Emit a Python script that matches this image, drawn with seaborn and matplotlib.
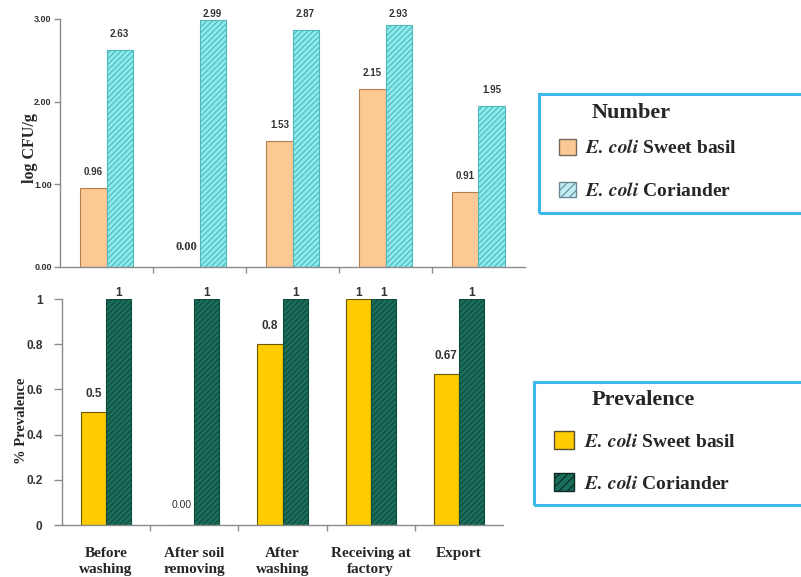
import numpy as np
import pandas as pd
import matplotlib
matplotlib.use("Agg")
import matplotlib.pyplot as plt
from matplotlib.patches import Rectangle, Patch
import seaborn as sns

# ---- data -------------------------------------------------------------
stages = ["Before\nwashing", "After soil\nremoving", "After\nwashing",
          "Receiving at\nfactory", "Export"]
series = ["Sweet basil", "Coriander"]

count_basil = [0.96, 0.00, 1.53, 2.15, 0.91]
count_coriander = [2.63, 2.99, 2.87, 2.93, 1.95]
count_labels_basil = ["0.96", "0.00", "1.53", "2.15", "0.91"]
count_labels_coriander = ["2.63", "2.99", "2.87", "2.93", "1.95"]

prev_basil = [0.5, 0.0, 0.8, 1.0, 0.67]
prev_coriander = [1.0, 1.0, 1.0, 1.0, 1.0]
prev_labels_basil = ["0.5", "0.00", "0.8", "1", "0.67"]
prev_labels_coriander = ["1", "1", "1", "1", "1"]

count_ticks = [0.0, 1.0, 2.0, 3.0]
prev_ticks = [0, 0.2, 0.4, 0.6, 0.8, 1]


def long_table(a, b):
    return pd.DataFrame({
        "stage": stages * 2,
        "series": [series[0]] * len(stages) + [series[1]] * len(stages),
        "value": list(a) + list(b),
    })


sns.set_theme(style="white")
plt.rcParams["hatch.linewidth"] = 0.8
plt.rcParams["mathtext.fontset"] = "stix"

fig = plt.figure(figsize=(8.01, 5.77), dpi=100)
W, H = 801, 577


def px_axes(l, t, r, b):
    return fig.add_axes([l / W, 1 - b / H, (r - l) / W, (b - t) / H])


ax_top = px_axes(60, 19, 525, 267)
ax_bot = px_axes(62, 299, 503, 525)

serif = "Liberation Serif"
sans = "Liberation Sans"

# colours
c_peach, e_peach = "#FCC894", "#B08050"
c_cyan, h_cyan = "#8EEBEC", "#4FB8BC"
c_yellow, e_yellow = "#FFCC00", "#8A7000"
c_green, h_green = "#1B6E5B", "#0F4A3C"


def draw_panel(ax, a, b, colors, hatch_colors, edge, width):
    sns.barplot(data=long_table(a, b), x="stage", y="value", hue="series",
                hue_order=series, palette=colors, saturation=1, width=width,
                ax=ax, legend=False, linewidth=0.8)
    for cont, hc, ec, hatch in zip(ax.containers, hatch_colors, edge, ["", "//////"]):
        for bar in cont:
            bar.set_edgecolor(ec if not hatch else hc)
            if hatch:
                bar.set_hatch(hatch)
    ax.set_xlim(-0.5, len(stages) - 0.5)
    ax.set_xlabel("")
    for s in ["top", "right"]:
        ax.spines[s].set_visible(False)
    for s in ["left", "bottom"]:
        ax.spines[s].set_color("#8C8C8C")
        ax.spines[s].set_linewidth(1.0)
    ax.set_xticks(np.arange(len(stages)))
    ax.set_xticks(np.arange(len(stages) - 1) + 0.5, minor=True)
    ax.tick_params(axis="x", which="major", length=0)
    ax.tick_params(axis="x", which="minor", length=4, width=1.0,
                   color="#8C8C8C", direction="out", bottom=True)


# ---- upper panel: counts ---------------------------------------------
draw_panel(ax_top, count_basil, count_coriander, [c_peach, c_cyan],
           [e_peach, h_cyan], [e_peach, "#3A9A9E"], 0.56)
ax_top.set_ylim(0, 3)
ax_top.set_yticks(count_ticks)
ax_top.set_yticklabels([f"{t:.2f}" for t in count_ticks],
                       fontfamily=sans, fontweight="bold", fontsize=6.5,
                       color="#333333")
ax_top.tick_params(axis="y", length=4, width=1.0, color="#8C8C8C",
                   direction="out", left=True, pad=2)
ax_top.set_xticklabels([])
ax_top.set_ylabel("log CFU/g", fontfamily=serif, fontweight="bold",
                  fontsize=11.5)
ax_top.yaxis.set_label_coords(-0.048, 0.48)

# ---- lower panel: prevalence -----------------------------------------
draw_panel(ax_bot, prev_basil, prev_coriander, [c_yellow, c_green],
           [e_yellow, h_green], ["#6B5800", "#0B3A2F"], 0.57)
ax_bot.set_ylim(0, 1)
ax_bot.set_yticks(prev_ticks)
ax_bot.set_yticklabels([f"{t:g}" for t in prev_ticks], fontfamily=sans,
                       fontweight="bold", fontsize=8.5, color="#333333")
ax_bot.tick_params(axis="y", length=6, width=1.0, color="#8C8C8C",
                   direction="out", left=True, pad=8)
ax_bot.set_xticklabels(stages, fontfamily=serif, fontweight="bold",
                       fontsize=11, linespacing=1.3)
ax_bot.tick_params(axis="x", which="major", pad=16)
ax_bot.set_ylabel("% Prevalence", fontfamily=serif, fontweight="bold",
                  fontsize=10.5)
ax_bot.yaxis.set_label_coords(-0.078, 0.46)


def value_labels(ax, values_pair, labels_pair, gap_px, cap_px, style):
    zero_family, zero_weight, zero_size, size = style
    y0, y1 = ax.get_ylim()
    h_px = ax.get_position().height * H
    unit = (y1 - y0) / h_px
    for cont, vals, labs in zip(ax.containers, values_pair, labels_pair):
        for bar, v, lab in zip(cont, vals, labs):
            x = bar.get_x() + bar.get_width() / 2
            if v == 0:
                ax.text(x, v + 20 * unit, lab, ha="center",
                        va="center", fontfamily=zero_family,
                        fontweight=zero_weight, fontsize=zero_size,
                        color="#333333", clip_on=False)
            else:
                y = min(v + gap_px * unit, y1 + cap_px * unit)
                ax.text(x, y, lab, ha="center", va="center",
                        fontfamily=sans, fontweight="bold", fontsize=size,
                        color="#333333", clip_on=False)


value_labels(ax_top, [count_basil, count_coriander],
             [count_labels_basil, count_labels_coriander], 16, 5,
             (serif, "bold", 9, 7))
value_labels(ax_bot, [prev_basil, prev_coriander],
             [prev_labels_basil, prev_labels_coriander], 18, 6,
             (sans, "normal", 7.5, 8.5))


# ---- legend boxes -----------------------------------------------------
def legend_box(l, t, r, b, title, handles, names, title_xy, anchor,
               handle_size, spacing):
    fig.patches.append(Rectangle((l / W, 1 - b / H), (r - l) / W, (b - t) / H,
                                 transform=fig.transFigure, fill=False,
                                 edgecolor="#3DB8E8", linewidth=2.2))
    fig.text(title_xy[0] / W, 1 - title_xy[1] / H, title, fontfamily=serif,
             fontweight="bold", fontsize=16, ha="left", va="center")
    leg = fig.legend(handles, names, loc="upper left",
                     bbox_to_anchor=(anchor[0] / W, 1 - anchor[1] / H),
                     frameon=False, prop={"family": serif, "weight": "bold",
                                          "size": 14},
                     handlelength=handle_size, handleheight=handle_size,
                     handletextpad=0.5, labelspacing=spacing, borderpad=0,
                     borderaxespad=0)
    return leg


names = [r"$\mathbfit{E.\,coli}$ Sweet basil",
         r"$\mathbfit{E.\,coli}$ Coriander"]
top_handles = [Patch(facecolor=c_peach, edgecolor="#7A6A5A", linewidth=1.0),
               Patch(facecolor="#BFEFF5", edgecolor="#6A8890", hatch="////",
                     linewidth=1.0)]
bot_handles = [Patch(facecolor=c_yellow, edgecolor="#5A5030", linewidth=1.0),
               Patch(facecolor=c_green, edgecolor="#0A2A22", hatch="////",
                     linewidth=1.0)]
legend_box(539, 94, 812, 213, "Number", top_handles, names, (592, 113),
           (559, 139), 0.85, 1.25)
legend_box(534, 382, 812, 505, "Prevalence", bot_handles, names, (592, 400),
           (554, 431), 1.05, 1.15)

fig.savefig("out.png", dpi=100)
